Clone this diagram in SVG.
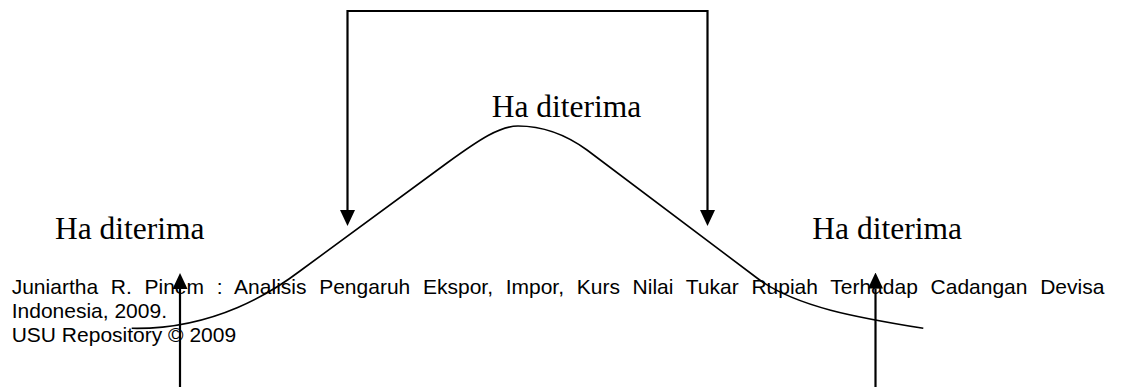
<svg xmlns="http://www.w3.org/2000/svg" width="1122" height="387" viewBox="0 0 1122 387">
  <style>
    .label { font-family: "Liberation Serif", "Times New Roman", serif; font-size: 31.5px; fill: #000; }
    .foot { font-family: "Liberation Sans", Arial, sans-serif; font-size: 21px; fill: #000; }
    .arrow { fill: none; stroke: #000; stroke-width: 2.2; }
    .curve { fill: none; stroke: #000; stroke-width: 1.6; }
  </style>
  <defs>
    <marker id="head" markerUnits="userSpaceOnUse" markerWidth="16" markerHeight="15" refX="0" refY="7.5" orient="auto-start-reverse" viewBox="0 0 16 15">
      <path d="M0,0 L16,7.5 L0,15 z" fill="#000"/>
    </marker>
  </defs>
  <rect width="1122" height="387" fill="#fff"/>

  <g id="footer">
    <text class="foot" x="11.7" y="293.8" word-spacing="6.87">Juniartha R. Pinem : Analisis Pengaruh Ekspor, Impor, Kurs Nilai Tukar Rupiah Terhadap Cadangan Devisa</text>
    <text class="foot" x="11.7" y="317.6">Indonesia, 2009.</text>
    <text class="foot" x="11.7" y="341.5">USU Repository © 2009</text>
  </g>

  <g id="label-top">
    <text class="label" x="491.7" y="117.3">Ha diterima</text>
  </g>
  <g id="label-left">
    <text class="label" x="55" y="239.3">Ha diterima</text>
  </g>
  <g id="label-right">
    <text class="label" x="812.3" y="239.3">Ha diterima</text>
  </g>

  <g id="curve">
    <path class="curve" d="M131.7,328.3 C215,330 275,290 300,271 L447,163 C480,139 500,126 518,126 C540,126 565,134 587,150 L757,278 C795,307 860,318 923.3,328.3"/>
  </g>

  <g id="connectors">
    <path class="arrow" d="M347.5,210 L347.5,11 L707.5,11 L707.5,210" marker-start="url(#head)" marker-end="url(#head)"/>
    <path class="arrow" d="M180,395 L180,289" marker-end="url(#head)"/>
    <path class="arrow" d="M875.5,395 L875.5,288.5" marker-end="url(#head)"/>
  </g>
</svg>
